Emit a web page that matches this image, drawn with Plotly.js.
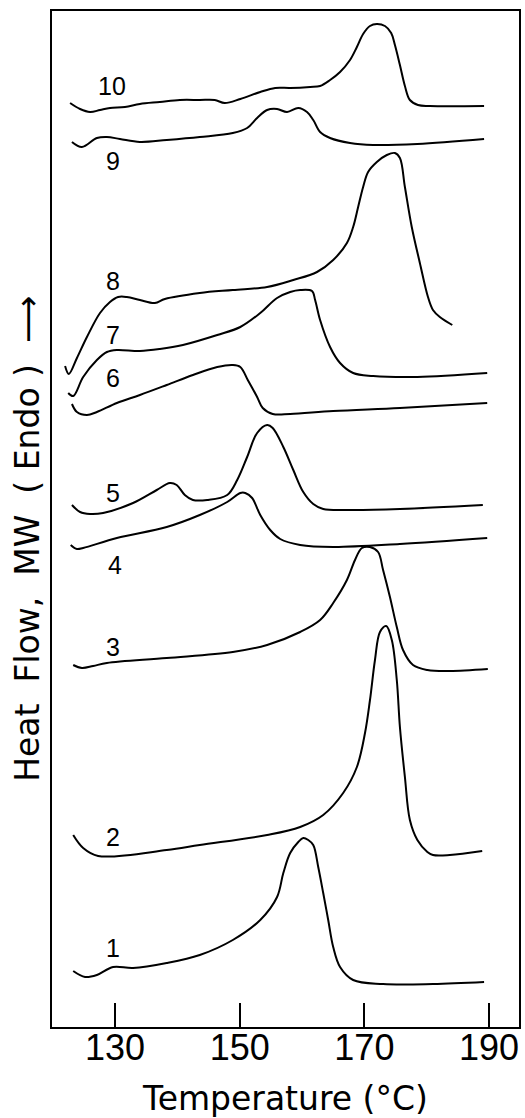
<!DOCTYPE html>
<html>
<head>
<meta charset="utf-8">
<script src="https://cdn.plot.ly/plotly-3.0.1.min.js"></script>
<style>html,body{margin:0;padding:0;background:#fff;}#chart{width:525px;height:1118px;}</style>
</head>
<body>
<div id="chart"></div>
<script>
// Temperature (°C) and heat flow (arbitrary units, curves stacked) for each DSC trace
var t1 = [123.3,125.2,127.1,129.7,132.9,138.3,143.6,148.9,153.3,156.0,157.0,158.1,159.4,160.2,161.0,161.8,162.6,163.4,164.2,165.0,166.1,168.2,173.0,181.0,189.2];
var h1 = [0.56,0.50,0.52,0.60,0.59,0.64,0.72,0.87,1.07,1.30,1.54,1.74,1.85,1.89,1.87,1.82,1.60,1.34,1.07,0.80,0.60,0.47,0.43,0.43,0.45];

var t2 = [123.3,124.9,127.3,138.3,143.6,154.4,159.7,163.4,166.6,168.8,170.1,170.9,171.7,172.5,173.5,174.4,175.2,175.7,176.5,177.3,178.5,180.1,181.0,183.7,188.9];
var h2 = [1.92,1.79,1.71,1.77,1.82,1.92,2.00,2.12,2.34,2.60,2.94,3.27,3.67,3.95,4.01,3.87,3.47,3.00,2.50,2.07,1.87,1.75,1.72,1.72,1.76];

var t3 = [123.3,124.7,126.5,128.7,138.3,148.9,154.4,159.7,162.9,165.0,167.2,168.5,169.6,170.9,172.2,173.0,174.1,175.2,176.2,177.8,180.1,183.7,189.8];
var h3 = [3.62,3.59,3.61,3.64,3.69,3.75,3.82,3.95,4.07,4.24,4.47,4.67,4.79,4.80,4.75,4.57,4.30,4.00,3.77,3.62,3.57,3.56,3.58];

var t4 = [122.9,123.9,124.9,130.3,138.3,143.6,148.0,150.1,150.9,152.0,153.3,154.9,156.5,159.7,165.0,175.7,189.7];
var h4 = [4.82,4.78,4.79,4.89,5.00,5.12,5.25,5.34,5.34,5.29,5.12,4.97,4.88,4.82,4.80,4.83,4.89];

var t5 = [123.1,124.4,126.0,128.1,132.9,136.7,138.8,139.9,141.2,142.5,144.8,148.0,149.6,151.2,152.8,154.4,155.3,157.0,158.6,160.2,161.8,163.4,167.7,175.7,189.0];
var h5 = [5.22,5.15,5.13,5.14,5.24,5.37,5.44,5.42,5.32,5.27,5.27,5.32,5.47,5.70,5.94,6.02,5.99,5.80,5.57,5.35,5.23,5.18,5.17,5.18,5.22];

var t6 = [123.1,123.9,125.5,127.1,130.3,134.0,138.3,142.5,146.4,148.9,150.1,151.3,152.8,153.7,155.3,158.1,165.0,175.7,189.7];
var h6 = [6.23,6.15,6.12,6.15,6.24,6.32,6.42,6.52,6.60,6.62,6.60,6.47,6.30,6.19,6.13,6.13,6.16,6.19,6.24];

var t7 = [122.5,123.3,124.9,127.1,128.7,130.3,134.0,137.2,140.9,146.4,150.1,153.3,156.0,158.1,159.7,161.6,162.1,162.9,164.5,166.1,168.2,171.4,178.5,189.7];
var h7 = [6.34,6.31,6.50,6.67,6.75,6.77,6.76,6.78,6.82,6.92,7.00,7.14,7.29,7.35,7.37,7.36,7.27,7.07,6.80,6.64,6.54,6.51,6.50,6.54];

var t8 = [122.0,122.6,123.9,125.5,127.6,129.2,130.5,131.9,134.0,136.4,138.0,143.6,148.9,154.4,158.6,162.4,165.0,167.2,168.2,169.0,169.8,170.6,172.0,173.6,174.9,175.7,176.5,177.6,178.9,180.2,181.0,182.1,184.1];
var h8 = [6.61,6.53,6.69,6.90,7.14,7.25,7.30,7.30,7.27,7.24,7.28,7.34,7.37,7.40,7.47,7.55,7.67,7.84,8.00,8.20,8.40,8.55,8.65,8.72,8.74,8.69,8.40,8.00,7.64,7.30,7.17,7.10,7.02];

var t9 = [123.1,124.7,127.1,128.7,130.8,134.0,138.3,143.6,148.9,151.2,152.8,154.4,156.0,157.6,159.4,160.8,161.8,162.9,164.5,167.7,171.4,178.5,189.2];
var h9 = [8.85,8.80,8.89,8.90,8.88,8.85,8.87,8.90,8.94,8.99,9.09,9.17,9.18,9.15,9.19,9.15,9.07,8.95,8.89,8.84,8.82,8.83,8.88];

var t10 = [122.8,124.4,126.0,127.6,129.2,131.6,134.0,137.2,140.4,143.6,146.0,147.6,150.1,153.3,155.7,158.1,161.3,162.9,164.5,166.1,167.7,168.8,169.8,170.9,172.0,173.3,174.3,174.9,175.7,176.5,177.3,178.6,180.5,189.2];
var h10 = [9.24,9.18,9.15,9.17,9.19,9.20,9.23,9.25,9.27,9.27,9.27,9.24,9.28,9.35,9.39,9.39,9.40,9.41,9.47,9.55,9.67,9.80,9.93,10.01,10.03,10.01,9.94,9.82,9.62,9.41,9.27,9.22,9.21,9.21];

var curveNames = ["1","2","3","4","5","6","7","8","9","10"];
var labelX = [129.7,129.7,129.7,130.0,129.7,129.7,129.7,129.7,129.7,129.5];
var labelY = [0.79,1.90,3.80,4.62,5.34,6.49,6.92,7.46,8.66,9.41];
var xTicks = [130,150,170,190];

var T = [t1,t2,t3,t4,t5,t6,t7,t8,t9,t10];
var H = [h1,h2,h3,h4,h5,h6,h7,h8,h9,h10];

var sans = "Liberation Sans, Arial, sans-serif";
var traces = [];
for (var i = 0; i < T.length; i++) {
  traces.push({
    x: T[i], y: H[i], type: "scatter", mode: "lines", name: curveNames[i],
    line: {color: "#000", width: 2, shape: "spline", smoothing: 1.0},
    hoverinfo: "skip"
  });
}
var annotations = [];
for (var j = 0; j < curveNames.length; j++) {
  annotations.push({
    x: labelX[j], y: labelY[j], xref: "x", yref: "y", text: curveNames[j],
    showarrow: false, xanchor: "center", yanchor: "middle",
    font: {family: sans, size: 25, color: "#000"}
  });
}
annotations.push({
  xref: "paper", yref: "paper", x: -0.0525, y: 0.481,
  text: "Heat  Flow,  MW  ( Endo )  \u27F6", textangle: -90, showarrow: false,
  xanchor: "center", yanchor: "middle",
  font: {family: "DejaVu Sans, sans-serif", size: 33, color: "#000"}
});

var layout = {
  width: 525, height: 1118,
  margin: {l: 52, r: 6, t: 11, b: 91},
  paper_bgcolor: "#fff", plot_bgcolor: "#fff",
  showlegend: false,
  xaxis: {
    range: [119.9, 194.8], tickvals: xTicks, ticktext: xTicks.map(String),
    ticks: "inside", ticklen: 24, tickwidth: 2, tickcolor: "#000",
    showline: true, mirror: true, linewidth: 2, linecolor: "#000",
    showgrid: false, zeroline: false, ticklabelstandoff: -12,
    tickfont: {family: sans, size: 36, color: "#000"},
    title: {text: "Temperature (°C)", font: {family: "DejaVu Sans, sans-serif", size: 33, color: "#000"}, standoff: 22}
  },
  yaxis: {
    range: [0, 10.16], showticklabels: false, ticks: "",
    showline: true, mirror: true, linewidth: 2, linecolor: "#000",
    showgrid: false, zeroline: false
  },
  annotations: annotations
};
Plotly.newPlot("chart", traces, layout, {displayModeBar: false, staticPlot: true});
</script>
</body>
</html>
